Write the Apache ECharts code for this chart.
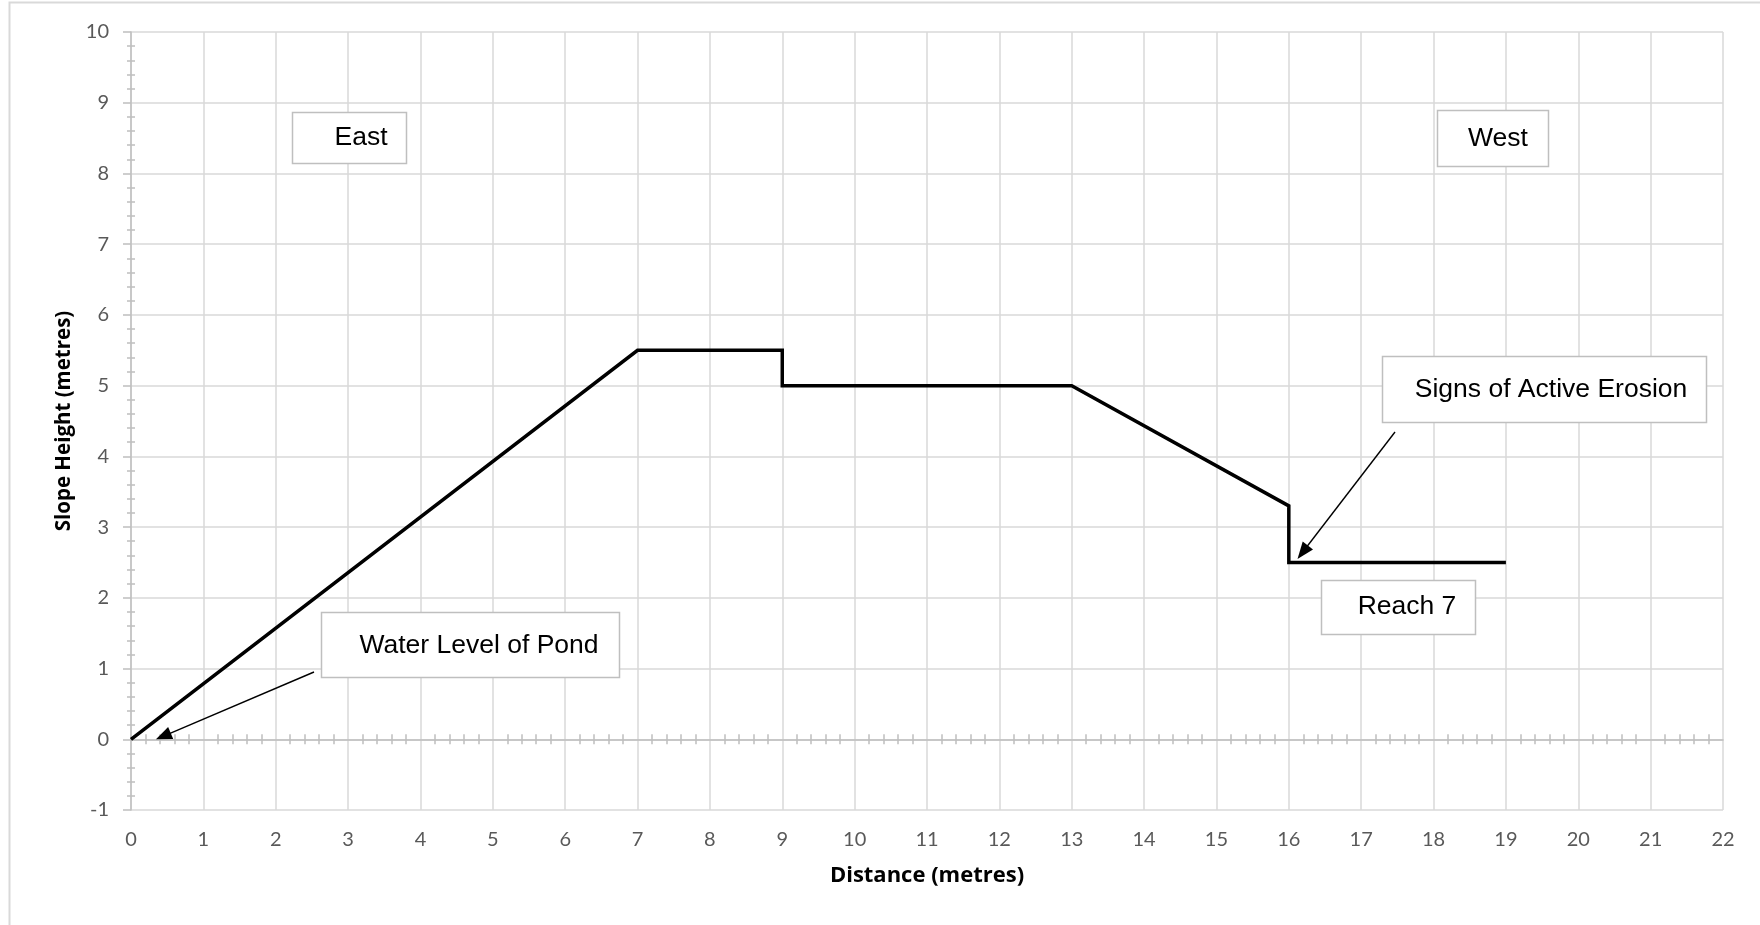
<!DOCTYPE html>
<html>
<head>
<meta charset="utf-8">
<script src="https://cdn.jsdelivr.net/npm/echarts@6/dist/echarts.min.js"></script>
<style>
html,body{margin:0;padding:0;background:#fff;}
#chart{width:1760px;height:925px;}
</style>
</head>
<body>
<div id="chart"></div>
<script>
// ---- data ----
const distance = [0, 7, 9, 9, 13, 16, 16, 19];
const slopeHeight = [0, 5.5, 5.5, 5, 5, 3.3, 2.5, 2.5];
const xTicks = {min: 0, max: 22, step: 1};
const yTicks = {min: -1, max: 10, step: 1};
const xTitle = 'Distance (metres)';
const yTitle = 'Slope Height (metres)';
const noteLabels = ['East', 'West', 'Signs of Active Erosion', 'Reach 7', 'Water Level of Pond'];

const points = distance.map((d, i) => [d, slopeHeight[i]]);

const GRID = {left: 131, top: 32, width: 1592, height: 778, outerBoundsMode: 'none'};
const gridColor = '#d9d9d9';
const axisColor = '#bfbfbf';
const labelFont = 'Lato, "Open Sans", sans-serif';
const titleFont = '"Open Sans", Lato, sans-serif';

function baseX(extra) {
  return Object.assign({
    type: 'value', min: xTicks.min, max: xTicks.max, interval: xTicks.step,
    axisLabel: {show: false}, splitLine: {show: false}, axisTick: {show: false},
    axisLine: {show: false}
  }, extra);
}
function baseY(extra) {
  return Object.assign({
    type: 'value', min: yTicks.min, max: yTicks.max, interval: yTicks.step,
    axisLabel: {show: false}, splitLine: {show: false}, axisTick: {show: false},
    axisLine: {show: false}
  }, extra);
}

const chart = echarts.init(document.getElementById('chart'), null, {renderer: 'canvas'});

const option = {
  animation: false,
  backgroundColor: '#ffffff',
  grid: [Object.assign({}, GRID), Object.assign({}, GRID), Object.assign({}, GRID)],
  xAxis: [
    baseX({
      gridIndex: 0, position: 'bottom',
      axisLine: {show: false, onZero: false},
      axisLabel: {show: true, color: '#595959', fontFamily: labelFont, fontSize: 20, margin: 20},
      splitLine: {show: true, lineStyle: {color: gridColor, width: 1.5}},
      name: xTitle, nameLocation: 'middle', nameGap: 55,
      nameTextStyle: {color: '#000', fontFamily: titleFont, fontWeight: 'bold', fontSize: 22}
    }),
    baseX({
      gridIndex: 1,
      axisLine: {show: true, onZero: true, lineStyle: {color: axisColor, width: 1.5}},
      axisTick: {show: false, inside: false},
      minorTick: {show: true, splitNumber: 5, length: 5, lineStyle: {color: axisColor, width: 1.5}}
    }),
    baseX({
      gridIndex: 2,
      axisLine: {show: false, onZero: true},
      axisTick: {show: false, inside: true},
      minorTick: {show: true, splitNumber: 5, length: 5, lineStyle: {color: axisColor, width: 1.5}}
    })
  ],
  yAxis: [
    baseY({
      gridIndex: 0,
      axisLine: {show: false, onZero: false},
      axisLabel: {show: true, color: '#595959', fontFamily: labelFont, fontSize: 20, margin: 22},
      axisTick: {show: true, length: 8, lineStyle: {color: axisColor, width: 1.5}},
      splitLine: {show: true, lineStyle: {color: gridColor, width: 1.5}},
      name: yTitle, nameLocation: 'middle', nameGap: 56, nameRotate: 90,
      nameTextStyle: {color: '#000', fontFamily: titleFont, fontWeight: 'bold', fontSize: 20.5}
    }),
    baseY({
      gridIndex: 1,
      axisLine: {show: true, onZero: true, lineStyle: {color: axisColor, width: 1.5}},
      axisTick: {show: false, inside: false},
      minorTick: {show: true, splitNumber: 5, length: 4, lineStyle: {color: axisColor, width: 1.5}}
    }),
    baseY({
      gridIndex: 2,
      axisLine: {show: false, onZero: true},
      axisTick: {show: false, inside: true},
      minorTick: {show: true, splitNumber: 5, length: 4, lineStyle: {color: axisColor, width: 1.5}}
    })
  ],
  series: [{
    type: 'line',
    xAxisIndex: 0, yAxisIndex: 0,
    data: points,
    showSymbol: false,
    symbol: 'none',
    z: 5,
    lineStyle: {color: '#000000', width: 3.5, join: 'miter', cap: 'butt'}
  }]
};
chart.setOption(option);

// ---- annotations (text boxes + arrows) ----
const boxStyle = {fill: '#ffffff', stroke: '#bfbfbf', lineWidth: 1.5};
const noteFont = '26.5px "Liberation Sans", Arial, sans-serif';
const boxes = [
  {r: [292, 112, 114, 51], t: [361, 138], s: noteLabels[0]},
  {r: [1437, 110, 111, 56], t: [1498, 139], s: noteLabels[1]},
  {r: [1382, 356, 324, 66], t: [1551, 390], s: noteLabels[2]},
  {r: [1321, 580, 154, 54], t: [1407, 607], s: noteLabels[3]},
  {r: [321, 612, 298, 65], t: [479, 646], s: noteLabels[4]}
];
// arrows: start in pixels, tip at data coordinates
const arrows = [
  {from: [314, 672], tipData: [0.345, 0], len: 16, half: 6.5},
  {from: [1395, 432], tipData: [16.12, 2.55], len: 17, half: 6.5}
];

const g = [];
g.push({type: 'rect', shape: {x: 9.5, y: 2.5, width: 1800, height: 1000},
        style: {fill: 'none', stroke: '#d9d9d9', lineWidth: 2}, z: 1, silent: true});
boxes.forEach(b => {
  g.push({type: 'rect', shape: {x: b.r[0] + 0.5, y: b.r[1] + 0.5, width: b.r[2], height: b.r[3]},
          style: boxStyle, z: 100});
  g.push({type: 'text', x: b.t[0], y: b.t[1],
          style: {text: b.s, font: noteFont, fill: '#000', align: 'center', verticalAlign: 'middle'}, z: 101});
});
arrows.forEach(a => {
  const tip = chart.convertToPixel({gridIndex: 0}, a.tipData);
  const dx = tip[0] - a.from[0], dy = tip[1] - a.from[1];
  const L = Math.hypot(dx, dy), ux = dx / L, uy = dy / L;
  const bx = tip[0] - a.len * ux, by = tip[1] - a.len * uy;
  const nx = -uy, ny = ux;
  g.push({type: 'line', shape: {x1: a.from[0], y1: a.from[1], x2: bx + ux * 2, y2: by + uy * 2},
          style: {stroke: '#000', lineWidth: 1.4}, z: 102});
  g.push({type: 'polygon', shape: {points: [[tip[0], tip[1]], [bx + a.half * nx, by + a.half * ny], [bx - a.half * nx, by - a.half * ny]]},
          style: {fill: '#000'}, z: 102});
});
chart.setOption({graphic: g});
</script>
</body>
</html>
